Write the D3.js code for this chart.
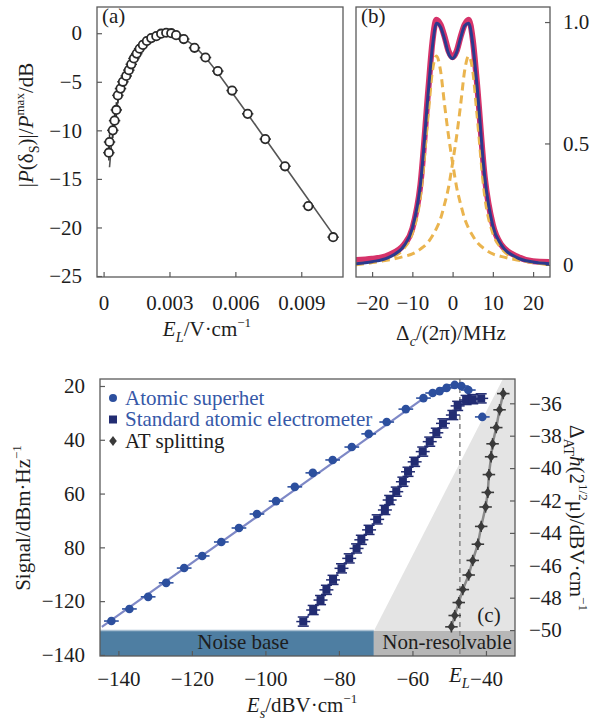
<!DOCTYPE html>
<html>
<head>
<meta charset="utf-8">
<script src="https://cdn.jsdelivr.net/npm/d3@7"></script>
<style>
svg text { font-family: 'Liberation Serif', Tinos, 'Nimbus Roman', FreeSerif, 'Times New Roman'; }
</style>
</head>
<body style="margin:0">
<div class="chart"></div>
<script>

// ---- panel (a) : power vs LO field
var aFieldE = [0.00024, 0.00027, 0.00042, 0.0005, 0.00058, 0.00065, 0.00077, 0.00088, 0.00103, 0.00115, 0.00126,
	0.00138, 0.00151, 0.00164, 0.00179, 0.00197, 0.00217, 0.0024, 0.00262, 0.00285, 0.00308, 0.0033,
	0.00365, 0.00414, 0.00464, 0.0052, 0.00585, 0.00656, 0.00736, 0.00826, 0.00932, 0.01045];
var aPower = [-12.3, -11.2, -10.0, -9.0, -7.9, -6.4, -5.7, -5.0, -4.4, -3.8, -3.2,
	-2.6, -2.1, -1.6, -1.2, -0.8, -0.5, -0.3, -0.05, 0.05, 0, -0.2,
	-0.6, -1.5, -2.5, -3.9, -5.9, -8.3, -10.9, -13.7, -17.8, -21.0];
var aErrE = 0.00026;
var aErrP = [0.8, 0.8, 0.8, 0.8, 0.8, 0.8, 0.7, 0.7, 0.7, 0.6, 0.6,
	0.6, 0, 0, 0, 0, 0, 0, 0, 0, 0, 0,
	0, 0, 0, 0, 0, 0, 0, 0, 0, 0];
var aFitE = [0.00027, 0.00035, 0.0005, 0.00073, 0.00103, 0.00141, 0.00194, 0.00255, 0.003, 0.00353, 0.00406, 0.00467, 0.00588, 0.0074, 0.00891, 0.0106];
var aFitP = [-13.8, -11.7, -9.0, -6.2, -4.0, -2.1, -0.7, -0.1, 0, -0.4, -1.2, -2.6, -6.2, -11.0, -15.8, -21.2];
var aTicksX = [0, 0.003, 0.006, 0.009];
var aTicksY = [0, -5, -10, -15, -20, -25];

// ---- panel (b) : EIT / AT spectrum
var bDetuning = [-24, -20, -16, -12, -10, -8, -6, -5, -4, -3, -2, -1, 0, 1, 2, 3, 4, 5, 6, 8, 10, 12, 16, 20, 24];
var bMeasured = [0.02, 0.025, 0.04, 0.085, 0.15, 0.33, 0.73, 0.92, 1.01, 0.99, 0.94, 0.88, 0.855, 0.88, 0.94, 0.99, 1.01, 0.93, 0.76, 0.36, 0.165, 0.085, 0.035, 0.015, 0.012];
var bFit = [0.005, 0.013, 0.03, 0.08, 0.15, 0.33, 0.72, 0.90, 0.995, 0.98, 0.93, 0.87, 0.85, 0.875, 0.935, 0.985, 0.995, 0.91, 0.75, 0.36, 0.16, 0.085, 0.03, 0.012, 0.005];
var bLeft = [0.0, 0.01, 0.025, 0.07, 0.13, 0.28, 0.63, 0.80, 0.86, 0.80, 0.66, 0.53, 0.42, 0.32, 0.25, 0.19, 0.15, 0.12, 0.095, 0.065, 0.045, 0.035, 0.02, 0.01, 0.005];
var bRight = [0.005, 0.01, 0.02, 0.035, 0.045, 0.065, 0.095, 0.12, 0.15, 0.19, 0.25, 0.32, 0.42, 0.53, 0.66, 0.80, 0.86, 0.80, 0.63, 0.28, 0.13, 0.07, 0.025, 0.01, 0.0];
var bTicksX = [-20, -10, 0, 10, 20];
var bTicksY = [0, 0.5, 1.0];

// ---- panel (c) : sensitivity comparison
var superE = [-141.9, -137.0, -131.9, -127.0, -122.1, -117.2, -112.0, -107.2, -102.3, -97.1, -92.0, -87.1,
	-81.7, -76.5, -71.9, -67.0, -61.8, -57.0, -54.5, -52.6, -50.7, -48.5, -46.7, -44.8, -41.0];
var superS = [-107.4, -102.9, -98.4, -93.2, -87.7, -83.2, -78.0, -72.8, -67.6, -62.8, -57.5, -52.3,
	-47.5, -42.7, -37.8, -33.4, -28.6, -24.5, -22.6, -21.9, -20.7, -19.6, -20.0, -21.5, -31.5];
var superFitE = [-144.5, -57];
var superFitS = [-109.6, -24.6];
var stdE = [-89.7, -87.0, -85.0, -83.4, -81.6, -79.3, -77.2, -75.2, -73.9, -71.8, -69.6, -67.5, -66.2,
	-64.4, -62.6, -61.2, -59.4, -57.2, -55.3, -53.5, -51.7, -49.0, -47.7, -45.4, -43.6, -41.3];
var stdS = [-107.6, -103.3, -99.6, -95.8, -92.1, -87.8, -84.1, -80.4, -77.2, -73.5, -69.6, -66.1, -62.4,
	-59.3, -55.6, -51.9, -48.2, -44.4, -40.7, -37.4, -33.9, -30.8, -27.4, -25.2, -24.9, -24.6];
var atE = [-35.3, -36.3, -37.2, -38.2, -38.6, -39.2, -39.5, -40.1, -41.3, -42.2, -43.6, -44.7, -46.3, -47.4, -48.5, -49.4];
var atSplit = [-35.4, -36.4, -37.5, -38.5, -39.3, -40.4, -41.5, -42.4, -43.6, -44.7, -45.7, -46.6, -47.5, -48.3, -49.1, -49.8];
var cTicksX = [-140, -120, -100, -80, -60, -40];
var sigTicks = [-20, -40, -60, -80, -100, -120];
var sigTickLabels = ["20", "40", "60", "80", "\u2212120", "\u2212140"];
var atTicks = [-36, -38, -40, -42, -44, -46, -48, -50];
var noiseTop = -111.1;
var resolveEdgeE = [-70.5, -35.4];
var fieldEL = -47.1;

var serif = "'Liberation Serif', Tinos, 'Nimbus Roman', FreeSerif, 'Times New Roman'";
var frameColor = '#5a5a5a';

var svg = d3.select('.chart')
	.append("svg")
	.attr("width", 593)
	.attr("height", 721);

// rich text helper: parts = [[text, flags]]  flags: i = italic, sub, sup
function rich(x, y, parts, size, anchor, rot) {
	var t = svg.append("text")
		.style("font-family", serif)
		.style("font-size", size + "px")
		.attr("fill", "#1d1d1d")
		.attr("text-anchor", anchor || "middle");
	if (rot) t.attr("transform", "translate(" + x + "," + y + ") rotate(" + rot + ")");
	else t.attr("x", x).attr("y", y);
	var shift = 0;
	parts.forEach(function(p) {
		var s = t.append("tspan").text(p[0]);
		var f = p[1] || "";
		var want = 0;
		if (f.indexOf("i") >= 0) s.style("font-style", "italic");
		if (f.indexOf("sub") >= 0) { want = size * 0.28; s.style("font-size", (size * 0.68) + "px"); }
		if (f.indexOf("sup") >= 0) { want = -size * 0.42; s.style("font-size", (size * 0.62) + "px"); }
		if (want != shift) { s.attr("dy", want - shift); shift = want; }
	});
	return t;
}

function frame(x0, y0, x1, y1) {
	svg.append("rect")
		.attr("x", x0).attr("y", y0)
		.attr("width", x1 - x0).attr("height", y1 - y0)
		.attr("fill", "none")
		.attr("stroke", frameColor)
		.attr("stroke-width", 1.3);
}

function styleAxis(g, size) {
	g.attr("font-family", null).attr("font-size", null);
	g.select(".domain").remove();
	g.selectAll(".tick line").attr("stroke", frameColor).attr("stroke-width", 1.2);
	g.selectAll(".tick text").attr("fill", "#1d1d1d").style("font-family", serif).style("font-size", size + "px");
}

function label(x, y, txt, size, anchor) {
	return svg.append("text").attr("x", x).attr("y", y)
		.attr("text-anchor", anchor || "start")
		.style("font-family", serif)
		.style("font-size", size + "px")
		.attr("fill", "#1d1d1d")
		.text(txt);
}

// ================= panel (a)
var xA = d3.scaleLinear().domain([-0.0003, 0.0109]).range([97, 343]);
var yA = d3.scaleLinear().domain([-25.1, 2.7]).range([277, 7]);

svg.append("g")
	.attr("transform", "translate(97,0)")
	.call(d3.axisLeft(yA).tickValues(aTicksY).tickSize(-5).tickPadding(15))
	.call(styleAxis, 21);

svg.append("g")
	.attr("transform", "translate(0,277)")
	.call(d3.axisBottom(xA).tickValues(aTicksX).tickSize(-5).tickPadding(18)
		.tickFormat(function(d) { return d === 0 ? "0" : d3.format(".3f")(d); }))
	.call(styleAxis, 21);

var aLine = d3.line()
	.x(function(d) { return xA(d[0]); })
	.y(function(d) { return yA(d[1]); })
	.curve(d3.curveMonotoneX);

svg.append("path")
	.datum(d3.zip(aFitE, aFitP))
	.attr("fill", "none")
	.attr("stroke", "#555")
	.attr("stroke-width", 1.6)
	.attr("d", aLine);

var aPts = d3.zip(aFieldE, aPower, aErrP);
var aErr = svg.append("g").attr("stroke", "#333").attr("stroke-width", 1.5);
aErr.selectAll(".h").data(aPts).enter().append("line")
	.attr("x1", function(d) { return xA(d[0] - aErrE); })
	.attr("x2", function(d) { return xA(d[0] + aErrE); })
	.attr("y1", function(d) { return yA(d[1]); })
	.attr("y2", function(d) { return yA(d[1]); });
aErr.selectAll(".v").data(aPts.filter(function(d) { return d[2] > 0; })).enter().append("line")
	.attr("x1", function(d) { return xA(d[0]); })
	.attr("x2", function(d) { return xA(d[0]); })
	.attr("y1", function(d) { return yA(d[1] - d[2]); })
	.attr("y2", function(d) { return yA(d[1] + d[2]); });

svg.append("g").selectAll("circle").data(aPts).enter().append("circle")
	.attr("cx", function(d) { return xA(d[0]); })
	.attr("cy", function(d) { return yA(d[1]); })
	.attr("r", 4.2)
	.attr("fill", "white")
	.attr("stroke", "#2a2a2a")
	.attr("stroke-width", 1.8);

frame(97, 7, 343, 277);

label(102, 23, "(a)", 21);

rich(207, 336, [["E", "i"], ["L", "isub"], ["/V\u00b7cm", ""], ["\u22121", "sup"]], 21);
rich(33, 125, [["|", ""], ["P", "i"], ["(\u03b4", ""], ["S", "sub"], [")|/", ""], ["P", "i"], ["max", "sup"], ["/dB", ""]], 21, "middle", -90);

// ================= panel (b)
var xB = d3.scaleLinear().domain([-24, 24.2]).range([356, 550]);
var yB = d3.scaleLinear().domain([-0.05, 1.062]).range([277, 7]);

svg.append("g")
	.attr("transform", "translate(550,0)")
	.call(d3.axisRight(yB).tickValues(bTicksY).tickSize(-5).tickPadding(13)
		.tickFormat(function(d) { return d === 0 ? "0" : d3.format(".1f")(d); }))
	.call(styleAxis, 21);

svg.append("g")
	.attr("transform", "translate(0,277)")
	.call(d3.axisBottom(xB).tickValues(bTicksX).tickSize(-5).tickPadding(18))
	.call(styleAxis, 21);

var bLine = d3.line()
	.x(function(d) { return xB(d[0]); })
	.y(function(d) { return yB(d[1]); })
	.curve(d3.curveMonotoneX);

svg.append("clipPath").attr("id", "clipB").append("rect")
	.attr("x", 356).attr("y", 7).attr("width", 194).attr("height", 270);
var bG = svg.append("g").attr("clip-path", "url(#clipB)");

bG.append("path").datum(d3.zip(bDetuning, bMeasured))
	.attr("fill", "none").attr("stroke", "#d6336a").attr("stroke-width", 6)
	.attr("stroke-linejoin", "round").attr("d", bLine);

bG.append("path").datum(d3.zip(bDetuning, bLeft))
	.attr("fill", "none").attr("stroke", "#eab44e").attr("stroke-width", 3)
	.attr("stroke-dasharray", "8,5").attr("d", bLine);

bG.append("path").datum(d3.zip(bDetuning, bRight))
	.attr("fill", "none").attr("stroke", "#eab44e").attr("stroke-width", 3)
	.attr("stroke-dasharray", "8,5").attr("d", bLine);

bG.append("path").datum(d3.zip(bDetuning, bFit))
	.attr("fill", "none").attr("stroke", "#2b3a8e").attr("stroke-width", 3)
	.attr("stroke-linejoin", "round").attr("d", bLine);

frame(356, 7, 550, 277);

label(361, 23, "(b)", 21);

rich(451, 340, [["\u0394", ""], ["c", "isub"], ["/(2\u03c0)/MHz", ""]], 21);

// ================= panel (c)
var xC = d3.scaleLinear().domain([-145, -32.1]).range([100, 515]);
var ySig = d3.scaleLinear().domain([-120.4, -17.4]).range([656, 379]);
var yAT = d3.scaleLinear().domain([-51.6, -34.5]).range([656, 379]);

// light grey non-resolvable wedge
svg.append("path")
	.attr("d", d3.line()([
		[xC(resolveEdgeE[0]), ySig(noiseTop)],
		[xC(resolveEdgeE[1]), ySig.range()[1]],
		[xC.range()[1], ySig.range()[1]],
		[xC.range()[1], ySig(noiseTop)]
	]))
	.attr("fill", "#e4e4e4");

// noise base band
svg.append("rect")
	.attr("x", xC.range()[0]).attr("y", ySig(noiseTop))
	.attr("width", xC(resolveEdgeE[0]) - xC.range()[0])
	.attr("height", ySig.range()[0] - ySig(noiseTop))
	.attr("fill", "#4e7ea2");
svg.append("rect")
	.attr("x", xC(resolveEdgeE[0])).attr("y", ySig(noiseTop))
	.attr("width", xC.range()[1] - xC(resolveEdgeE[0]))
	.attr("height", ySig.range()[0] - ySig(noiseTop))
	.attr("fill", "#b7b7b7");
svg.append("line")
	.attr("x1", xC.range()[0]).attr("x2", xC(resolveEdgeE[0]))
	.attr("y1", ySig(noiseTop) - 0.5).attr("y2", ySig(noiseTop) - 0.5)
	.attr("stroke", "#a9c0d2").attr("stroke-width", 1.5);

label(243, 649, "Noise base", 21, "middle");
label(447, 649, "Non-resolvable", 21, "middle");

// E_L dashed line
svg.append("line")
	.attr("x1", xC(fieldEL)).attr("x2", xC(fieldEL))
	.attr("y1", 379).attr("y2", 656)
	.attr("stroke", "#8c8c8c").attr("stroke-width", 1.6)
	.attr("stroke-dasharray", "5,4");

// axes
svg.append("g")
	.attr("transform", "translate(100,0)")
	.call(d3.axisLeft(ySig).tickValues(sigTicks).tickSize(-5).tickPadding(15)
		.tickFormat(function(d, i) { return sigTickLabels[i]; }))
	.call(styleAxis, 21);

svg.append("g")
	.attr("transform", "translate(515,0)")
	.call(d3.axisRight(yAT).tickValues(atTicks).tickSize(-5).tickPadding(14))
	.call(styleAxis, 21);

svg.append("g")
	.attr("transform", "translate(0,656)")
	.call(d3.axisBottom(xC).tickValues(cTicksX).tickSize(-5).tickPadding(15))
	.call(styleAxis, 21);

var sigLine = d3.line()
	.x(function(d) { return xC(d[0]); })
	.y(function(d) { return ySig(d[1]); });
var atLine = d3.line()
	.x(function(d) { return xC(d[0]); })
	.y(function(d) { return yAT(d[1]); });

// fit / guide lines
svg.append("path").datum(d3.zip(superFitE, superFitS))
	.attr("fill", "none").attr("stroke", "#7e88c6").attr("stroke-width", 2.2).attr("d", sigLine);
svg.append("path").datum(d3.zip(stdE, stdS))
	.attr("fill", "none").attr("stroke", "#5460a6").attr("stroke-width", 1.5).attr("d", sigLine);
svg.append("path").datum(d3.zip(atE, atSplit))
	.attr("fill", "none").attr("stroke", "#8a8a8a").attr("stroke-width", 2.5).attr("d", atLine);

// atomic superhet points
var superPts = d3.zip(superE, superS);
var gSuper = svg.append("g");
gSuper.selectAll("line").data(superPts).enter().append("line")
	.attr("x1", function(d) { return xC(d[0] - 2); })
	.attr("x2", function(d) { return xC(d[0] + 2); })
	.attr("y1", function(d) { return ySig(d[1]); })
	.attr("y2", function(d) { return ySig(d[1]); })
	.attr("stroke", "#2c4f9e").attr("stroke-width", 1.6);
gSuper.selectAll("circle").data(superPts).enter().append("circle")
	.attr("cx", function(d) { return xC(d[0]); })
	.attr("cy", function(d) { return ySig(d[1]); })
	.attr("r", 4.3)
	.attr("fill", "#2c4f9e");

// standard electrometer points
var stdPts = d3.zip(stdE, stdS);
var gStd = svg.append("g").attr("stroke", "#222c72").attr("stroke-width", 1.5);
gStd.selectAll(".h").data(stdPts).enter().append("line")
	.attr("x1", function(d) { return xC(d[0] - 1.9); })
	.attr("x2", function(d) { return xC(d[0] + 1.9); })
	.attr("y1", function(d) { return ySig(d[1]); })
	.attr("y2", function(d) { return ySig(d[1]); });
gStd.selectAll(".cu").data(stdPts).enter().append("line")
	.attr("x1", function(d) { return xC(d[0] - 1.5); })
	.attr("x2", function(d) { return xC(d[0] + 1.5); })
	.attr("y1", function(d) { return ySig(d[1] + 1.7); })
	.attr("y2", function(d) { return ySig(d[1] + 1.7); });
gStd.selectAll(".cd").data(stdPts).enter().append("line")
	.attr("x1", function(d) { return xC(d[0] - 1.5); })
	.attr("x2", function(d) { return xC(d[0] + 1.5); })
	.attr("y1", function(d) { return ySig(d[1] - 1.7); })
	.attr("y2", function(d) { return ySig(d[1] - 1.7); });
svg.append("g").selectAll("rect").data(stdPts).enter().append("rect")
	.attr("x", function(d) { return xC(d[0]) - 4; })
	.attr("y", function(d) { return ySig(d[1]) - 4; })
	.attr("width", 8).attr("height", 8)
	.attr("fill", "#222c72");

// AT splitting points
var atPts = d3.zip(atE, atSplit);
var gAT = svg.append("g").attr("stroke", "#3a3a3a").attr("stroke-width", 1.6);
gAT.selectAll(".h").data(atPts).enter().append("line")
	.attr("x1", function(d) { return xC(d[0] - 1.7); })
	.attr("x2", function(d) { return xC(d[0] + 1.7); })
	.attr("y1", function(d) { return yAT(d[1]); })
	.attr("y2", function(d) { return yAT(d[1]); });
gAT.selectAll(".v").data(atPts).enter().append("line")
	.attr("x1", function(d) { return xC(d[0]); })
	.attr("x2", function(d) { return xC(d[0]); })
	.attr("y1", function(d) { return yAT(d[1] - 0.35); })
	.attr("y2", function(d) { return yAT(d[1] + 0.35); });
var diamond = "M0,-5L3.8,0L0,5L-3.8,0Z";
svg.append("g").selectAll("path").data(atPts).enter().append("path")
	.attr("transform", function(d) { return "translate(" + xC(d[0]) + "," + yAT(d[1]) + ")"; })
	.attr("d", diamond)
	.attr("fill", "#3a3a3a");

frame(100, 379, 515, 656);

// legend
var legend = [
	{ label: "Atomic superhet", color: "#3658a8", mark: "circle", fill: "#2c4f9e" },
	{ label: "Standard atomic electrometer", color: "#3658a8", mark: "square", fill: "#222c72" },
	{ label: "AT splitting", color: "#1d1d1d", mark: "diamond", fill: "#3a3a3a" }
];
var lg = svg.append("g").attr("transform", "translate(113,398)");
legend.forEach(function(d, i) {
	var row = lg.append("g").attr("transform", "translate(0," + (i * 21.5) + ")");
	if (d.mark == "circle") row.append("circle").attr("r", 4).attr("fill", d.fill);
	if (d.mark == "square") row.append("rect").attr("x", -4).attr("y", -4).attr("width", 8).attr("height", 8).attr("fill", d.fill);
	if (d.mark == "diamond") row.append("path").attr("d", diamond).attr("fill", d.fill);
	row.append("text").attr("x", 12).attr("y", 6.5).style("font-family", serif)
		.style("font-size", "21px").attr("fill", d.color).text(d.label);
});

label(489, 622, "(c)", 21, "middle");

rich(449, 682, [["E", "i"], ["L", "isub"]], 21, "start");
rich(302, 712, [["E", "i"], ["s", "isub"], ["/dBV\u00b7cm", ""], ["\u22121", "sup"]], 21);
rich(30, 518, [["Signal/dBm\u00b7Hz", ""], ["\u22121", "sup"]], 21, "middle", -90);
rich(570, 518, [["\u0394", ""], ["AT", "sub"], ["\u0127", "i"], ["(2", ""], ["1/2", "sup"], ["\u03bc)/dBV\u00b7cm", ""], ["\u22121", "sup"]], 21, "middle", 90);

</script>
</body>
</html>
